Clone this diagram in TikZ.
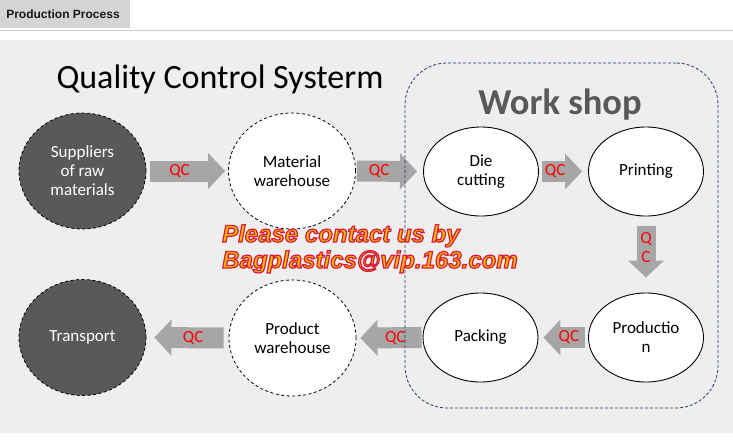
\documentclass[tikz,border=0pt]{standalone}
\usepackage{fontspec}
\setmainfont{Carlito}
\newfontfamily\arialfont{Liberation Sans}
\usepackage{xcolor}
\usepackage{tikz}
\usetikzlibrary{positioning, arrows.meta, calc, shapes.geometric}
\definecolor{panelgray}{HTML}{EEEEEE}
\definecolor{tabgray}{HTML}{D4D4D4}
\definecolor{tabline}{HTML}{CCCCCC}
\definecolor{darkstep}{HTML}{595959}
\definecolor{arrowgray}{HTML}{A6A6A6}
\definecolor{qcred}{HTML}{FF0000}
\definecolor{shopblue}{HTML}{1F3B70}
\definecolor{shopgray}{HTML}{595959}
\definecolor{markgold}{HTML}{FFBA00}
\definecolor{markred}{HTML}{D81B3C}
% outlined mark text: gold fill, red stroke
\newcommand{\marktext}[1]{{\color{markgold}\addfontfeature{FakeBold=5}\special{pdf:literal 0.847 0.106 0.235 RG}#1}}

\tikzset{
  outerstage/.style={ellipse, draw=black, line width=0.8pt, dash pattern=on 3pt off 2.5pt,
    minimum width=127pt, minimum height=116pt, inner sep=0pt, align=center,
    font=\fontsize{17}{19}\selectfont},
  darkstage/.style={outerstage, fill=darkstep, text=white},
  whitestage/.style={outerstage, fill=white},
  shopstage/.style={ellipse, draw=black, line width=0.9pt, fill=white,
    minimum width=115pt, minimum height=89pt, inner sep=0pt, align=center,
    font=\fontsize{17}{19}\selectfont},
  qcarrow/.style={draw=arrowgray, line width=21pt, -{Triangle[length=17pt, width=35pt]}},
  qclabel/.style={text=qcred, inner sep=0pt, align=center, font=\fontsize{17}{19}\selectfont}
}

\begin{document}
\begin{tikzpicture}[x=1pt, y=-1pt]
  \useasboundingbox (0,0) rectangle (733,442);
  % header tab and panel
  \fill[tabgray] (0,0) rectangle (130,28);
  \node[font=\arialfont\bfseries\fontsize{12}{14}\selectfont, text=black!90] (tab) at (63,14) {Production Process};
  \draw[tabline, line width=1pt] (0,30.5) -- (733,30.5);
  \fill[panelgray] (0,40) rectangle (733,433);

  \node[anchor=base, font=\fontsize{34}{36}\selectfont] (title) at (220,88) {Quality Control Systerm};

  % stages
  \node[darkstage] (sup) at (82.5,171) {Suppliers\\of raw\\materials};
  \node[whitestage] (mat) at (292,171) {Material\\warehouse};
  \node[shopstage] (die) at (481,171.5) {Die\\cutting};
  \node[shopstage] (pri) at (646,171.5) {Printing};
  \node[shopstage] (pro) at (646,337.5) {Productio\\n};
  \node[shopstage] (pac) at (480.5,337.5) {Packing};
  \node[whitestage] (pwh) at (292.5,338) {Product\\warehouse};
  \node[darkstage] (tra) at (82.5,337.5) {Transport};

  % qc arrows
  \draw[qcarrow] ([xshift=4pt]sup.east) -- ([xshift=-3pt]mat.west) node[qclabel, pos=0.39] {QC};
  \draw[qcarrow] ([xshift=1pt]mat.east) -- ([xshift=-6pt]die.west) node[qclabel, pos=0.37] {QC};
  \draw[qcarrow] ([xshift=3pt]die.east) -- ([xshift=-6pt]pri.west) node[qclabel, pos=0.33] {QC};
  \draw[qcarrow, line width=19pt] ([yshift=-10pt]pri.south) -- ([yshift=15pt]pro.north)
    node[qclabel, pos=0.41] {Q\\C};
  \draw[qcarrow] ([xshift=-3pt]pro.west) -- ([xshift=5pt]pac.east) node[qclabel, pos=0.39] {QC};
  \draw[qcarrow] ([xshift=-1pt]pac.west) -- ([xshift=4pt]pwh.east) node[qclabel, pos=0.43] {QC};
  \draw[qcarrow] ([xshift=-5pt]pwh.west) -- ([xshift=8pt]tra.east) node[qclabel, pos=0.44] {QC};

  % work shop frame
  \node[draw=shopblue, line width=0.8pt, dash pattern=on 3pt off 2pt, rounded corners=42pt,
        minimum width=313pt, minimum height=345pt, inner sep=0pt] (shop) at (561.5,235.5) {};
  \node[anchor=base, font=\bfseries\fontsize{36.5}{38}\selectfont, text=shopgray] (shoptitle) at (560,114) {Work shop};

  % contact mark
  \node[anchor=base west, inner sep=0pt,
        font=\arialfont\bfseries\itshape\fontsize{24}{26}\selectfont] (mark1) at (222,242)
        {\marktext{Please contact us by}};
  \node[anchor=base west, inner sep=0pt,
        font=\arialfont\bfseries\itshape\fontsize{24}{26}\selectfont] (mark2) at (222,268)
        {\marktext{Bagplastics@vip.163.com}};
\end{tikzpicture}
\end{document}
